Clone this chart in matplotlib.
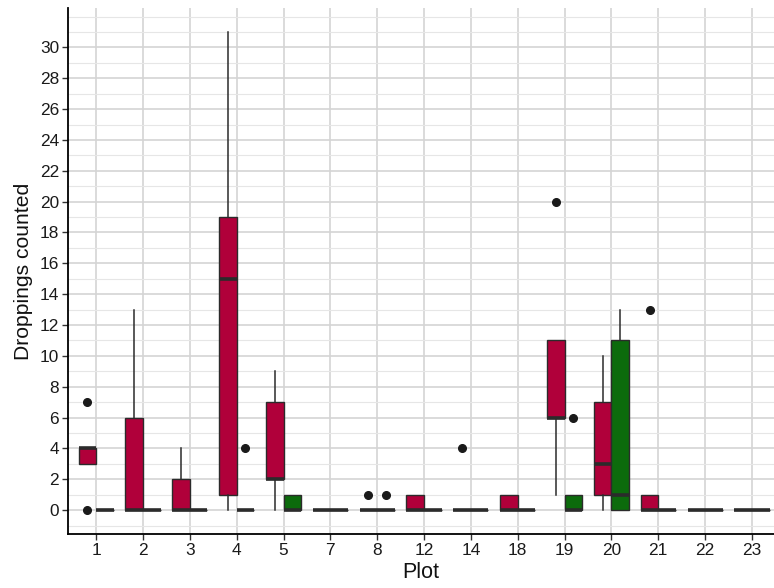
import matplotlib.pyplot as plt
from matplotlib.ticker import MultipleLocator

plt.rcParams['font.family'] = ['Liberation Sans', 'DejaVu Sans']

plots = ["1", "2", "3", "4", "5", "7", "8", "12", "14", "18", "19", "20", "21", "22", "23"]

# first group (red)
red_q1 = [3, 0, 0, 1, 2, 0, 0, 0, 0, 0, 6, 1, 0, 0, 0]
red_med = [4, 0, 0, 15, 2, 0, 0, 0, 0, 0, 6, 3, 0, 0, 0]
red_q3 = [4, 6, 2, 19, 7, 0, 0, 1, 0, 1, 11, 7, 1, 0, 0]
red_lo = [3, 0, 0, 0, 0, 0, 0, 0, 0, 0, 1, 0, 0, 0, 0]
red_hi = [4, 13, 4, 31, 9, 0, 0, 1, 0, 1, 11, 10, 1, 0, 0]
red_out = [[0, 7], [], [], [], [], [], [1], [], [4], [], [20], [], [13], [], []]

# second group (green)
green_q1 = [0, 0, 0, 0, 0, 0, 0, 0, 0, 0, 0, 0, 0, 0, 0]
green_med = [0, 0, 0, 0, 0, 0, 0, 0, 0, 0, 0, 1, 0, 0, 0]
green_q3 = [0, 0, 0, 0, 1, 0, 0, 0, 0, 0, 1, 11, 0, 0, 0]
green_lo = [0, 0, 0, 0, 0, 0, 0, 0, 0, 0, 0, 0, 0, 0, 0]
green_hi = [0, 0, 0, 0, 1, 0, 0, 0, 0, 0, 1, 13, 0, 0, 0]
green_out = [[], [], [], [4], [], [], [1], [], [], [], [6], [], [], [], []]

RED = "#B0003A"
GREEN = "#0C6B0C"
EDGE = "#2b2b2b"


def make_stats(q1, med, q3, lo, hi, out):
    return [dict(q1=a, med=b, q3=c, whislo=d, whishi=e, fliers=f)
            for a, b, c, d, e, f in zip(q1, med, q3, lo, hi, out)]


fig = plt.figure(figsize=(7.74, 5.88), dpi=100)
ax = fig.add_axes([0.0879, 0.0918, 0.9121, 0.8945])

pos = list(range(1, len(plots) + 1))
width = 0.375
off = 0.1875

groups = [
    (make_stats(red_q1, red_med, red_q3, red_lo, red_hi, red_out), -off, RED),
    (make_stats(green_q1, green_med, green_q3, green_lo, green_hi, green_out), off, GREEN),
]
for stats, dx, col in groups:
    ax.bxp(stats, positions=[p + dx for p in pos], widths=width,
           patch_artist=True, showcaps=False, manage_ticks=False,
           boxprops=dict(facecolor=col, edgecolor=EDGE, linewidth=1.0),
           medianprops=dict(color=EDGE, linewidth=2.6, solid_capstyle='butt'),
           whiskerprops=dict(color=EDGE, linewidth=1.1),
           flierprops=dict(marker='o', markerfacecolor='#1a1a1a',
                           markeredgecolor='#1a1a1a', markersize=5.5))

ax.set_xlim(0.4, 15.47)
ax.set_ylim(-1.55, 32.55)
ax.set_xticks(pos)
ax.set_xticklabels(plots)
ax.yaxis.set_major_locator(MultipleLocator(2))
ax.yaxis.set_minor_locator(MultipleLocator(1))
ax.set_yticks(range(0, 31, 2))

ax.set_axisbelow(True)
ax.grid(which='major', axis='both', color='#d4d4d4', linewidth=1.2)
ax.grid(which='minor', axis='y', color='#e6e6e6', linewidth=0.8)

for side in ['top', 'right']:
    ax.spines[side].set_visible(False)
for side in ['left', 'bottom']:
    ax.spines[side].set_color('black')
    ax.spines[side].set_linewidth(1.3)

ax.tick_params(which='major', length=4, width=1.0, color='#333333',
               labelsize=12.4, labelcolor='#1a1a1a', pad=2.5)
ax.tick_params(which='minor', length=0)

ax.set_xlabel("Plot", fontsize=15.5, color='#111111', labelpad=3)
ax.set_ylabel("Droppings counted", fontsize=15.2, color='#111111', labelpad=5)

fig.savefig("out.png", dpi=100)
